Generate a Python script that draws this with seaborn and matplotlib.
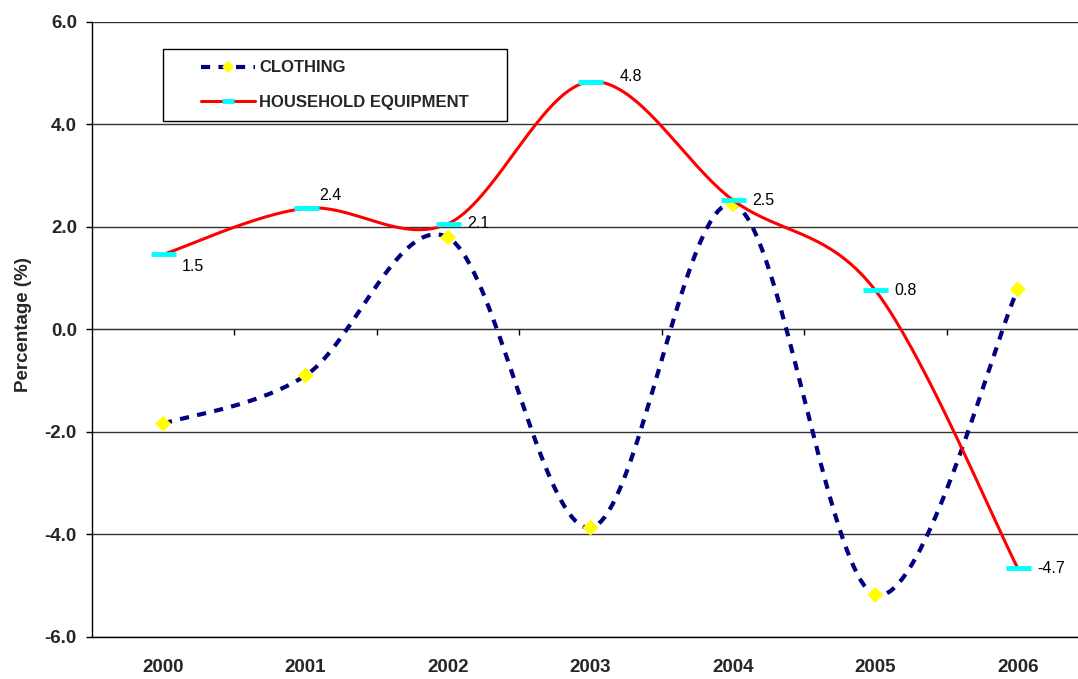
import numpy as np
import matplotlib
matplotlib.use('Agg')
import matplotlib.pyplot as plt
from matplotlib.lines import Line2D
from matplotlib.legend_handler import HandlerLine2D
import seaborn as sns

# values
years = ['2000', '2001', '2002', '2003', '2004', '2005', '2006']
clothing = [-1.84, -0.90, 1.79, -3.87, 2.44, -5.18, 0.78]
household = [1.46, 2.36, 2.06, 4.83, 2.52, 0.76, -4.66]
yticks = [-6, -4, -2, 0, 2, 4, 6]
series_names = ['CLOTHING', 'HOUSEHOLD EQUIPMENT']

# label offsets (points) for the household data labels
label_offsets = [(13.7, -8.6), (10, 9.4), (13.7, 0), (21, 3.6), (13.7, 0), (13.7, 0), (13.7, 0)]


def smooth(xs, ys, n=40):
    # Excel-like smoothed line: Catmull-Rom drawn as cubic Bezier segments
    p = np.column_stack([xs, ys]).astype(float)
    ext = np.vstack([p[0], p, p[-1]])
    t = np.linspace(0, 1, n)[:, None]
    out = []
    for i in range(len(p) - 1):
        p0, p3 = p[i], p[i + 1]
        c1 = p0 + (ext[i + 2] - ext[i]) / 6
        c2 = p3 - (ext[i + 3] - ext[i + 1]) / 6
        seg = (1 - t)**3 * p0 + 3 * (1 - t)**2 * t * c1 + 3 * (1 - t) * t**2 * c2 + t**3 * p3
        out.append(seg if i == 0 else seg[1:])
    out = np.vstack(out)
    return out[:, 0], out[:, 1]


sns.set_style('white')
plt.rcParams['font.family'] = ['Liberation Sans', 'DejaVu Sans']

fig = plt.figure(figsize=(10.78, 6.79), dpi=100)
ax = fig.add_axes([0.0853, 0.0619, 0.9249, 0.9062])

x = np.arange(len(years))
navy, red, yellow, cyan = '#000080', '#FF0000', '#FFFF00', '#00FFFF'
dash = (0, (2.2, 2.0))

cx, cy = smooth(x, clothing)
sns.lineplot(x=cx, y=cy, sort=False, estimator=None, color=navy, linewidth=3,
             linestyle=dash, ax=ax, zorder=3)
sns.scatterplot(x=x, y=clothing, marker='D', s=66, color=yellow, edgecolor='none',
                linewidth=0, ax=ax, zorder=4)

hx, hy = smooth(x, household)
sns.lineplot(x=hx, y=hy, sort=False, estimator=None, color=red, linewidth=2.2,
             ax=ax, zorder=5)
sns.scatterplot(x=x, y=household, marker='_', s=18**2, color=cyan, linewidth=3.5,
                ax=ax, zorder=6)

for xi, v, off in zip(x, household, label_offsets):
    ax.annotate(f'{v:.1f}', (xi, v), xytext=off, textcoords='offset points',
                ha='left', va='center', fontsize=11.5, color='black', zorder=7)

ax.set_xlim(-0.5, len(years) - 0.5)
ax.set_ylim(yticks[0], yticks[-1])
ax.set_xticks(x)
ax.set_xticklabels(years)
ax.set_yticks(yticks)
ax.set_yticklabels([f'{v:.1f}' for v in yticks])
ax.tick_params(axis='y', left=True, direction='out', length=4.3, width=1,
               color='black', pad=6.5, labelsize=13.5)
ax.tick_params(axis='x', bottom=False, length=0, pad=16, labelsize=13.5)
for lbl in ax.get_xticklabels() + ax.get_yticklabels():
    lbl.set_fontweight('bold')

ax.set_xlabel('')
ax.set_ylabel('Percentage (%)', fontsize=13.5, fontweight='bold')
ax.yaxis.set_label_coords(-0.060, 0.507)

ax.yaxis.grid(True, color='#333333', linewidth=1)
ax.xaxis.grid(False)
ax.set_axisbelow(True)
for side in ['top', 'right']:
    ax.spines[side].set_visible(False)
for side in ['left', 'bottom']:
    ax.spines[side].set_color('black')
    ax.spines[side].set_linewidth(1)

# category axis crossing at zero, with ticks between categories
sec = ax.secondary_xaxis(0.5)
sec.set_xticks(x[:-1] + 0.5)
sec.set_xticklabels([])
sec.tick_params(axis='x', bottom=True, top=False, direction='out', length=4.3, width=1,
                color='black', labelbottom=False, labeltop=False)
sec.spines['bottom'].set_color('black')
sec.spines['bottom'].set_linewidth(1)

h1 = Line2D([], [], color=navy, linewidth=3, linestyle=dash, marker='D', markersize=6.5,
            markerfacecolor=yellow, markeredgewidth=0)
h2 = Line2D([], [], color=red, linewidth=2.2, marker='_', markersize=9,
            markeredgewidth=3.5, markeredgecolor=cyan)
leg = ax.legend([h1, h2], series_names,
                handler_map={h1: HandlerLine2D(xpad=1.6), h2: HandlerLine2D(xpad=1.6)},
                loc='upper left', bbox_to_anchor=(0.1512, 0.8218, 0.3191, 0.1060),
                bbox_transform=fig.transFigure, mode='expand', borderaxespad=0,
                borderpad=0.68, labelspacing=1.18, handlelength=4.83, handletextpad=0.25,
                prop={'weight': 'bold', 'size': 12}, frameon=True, fancybox=False,
                framealpha=1, edgecolor='black')
leg.get_frame().set_linewidth(1.0)
leg.set_zorder(10)

fig.savefig('out.png', dpi=100)
